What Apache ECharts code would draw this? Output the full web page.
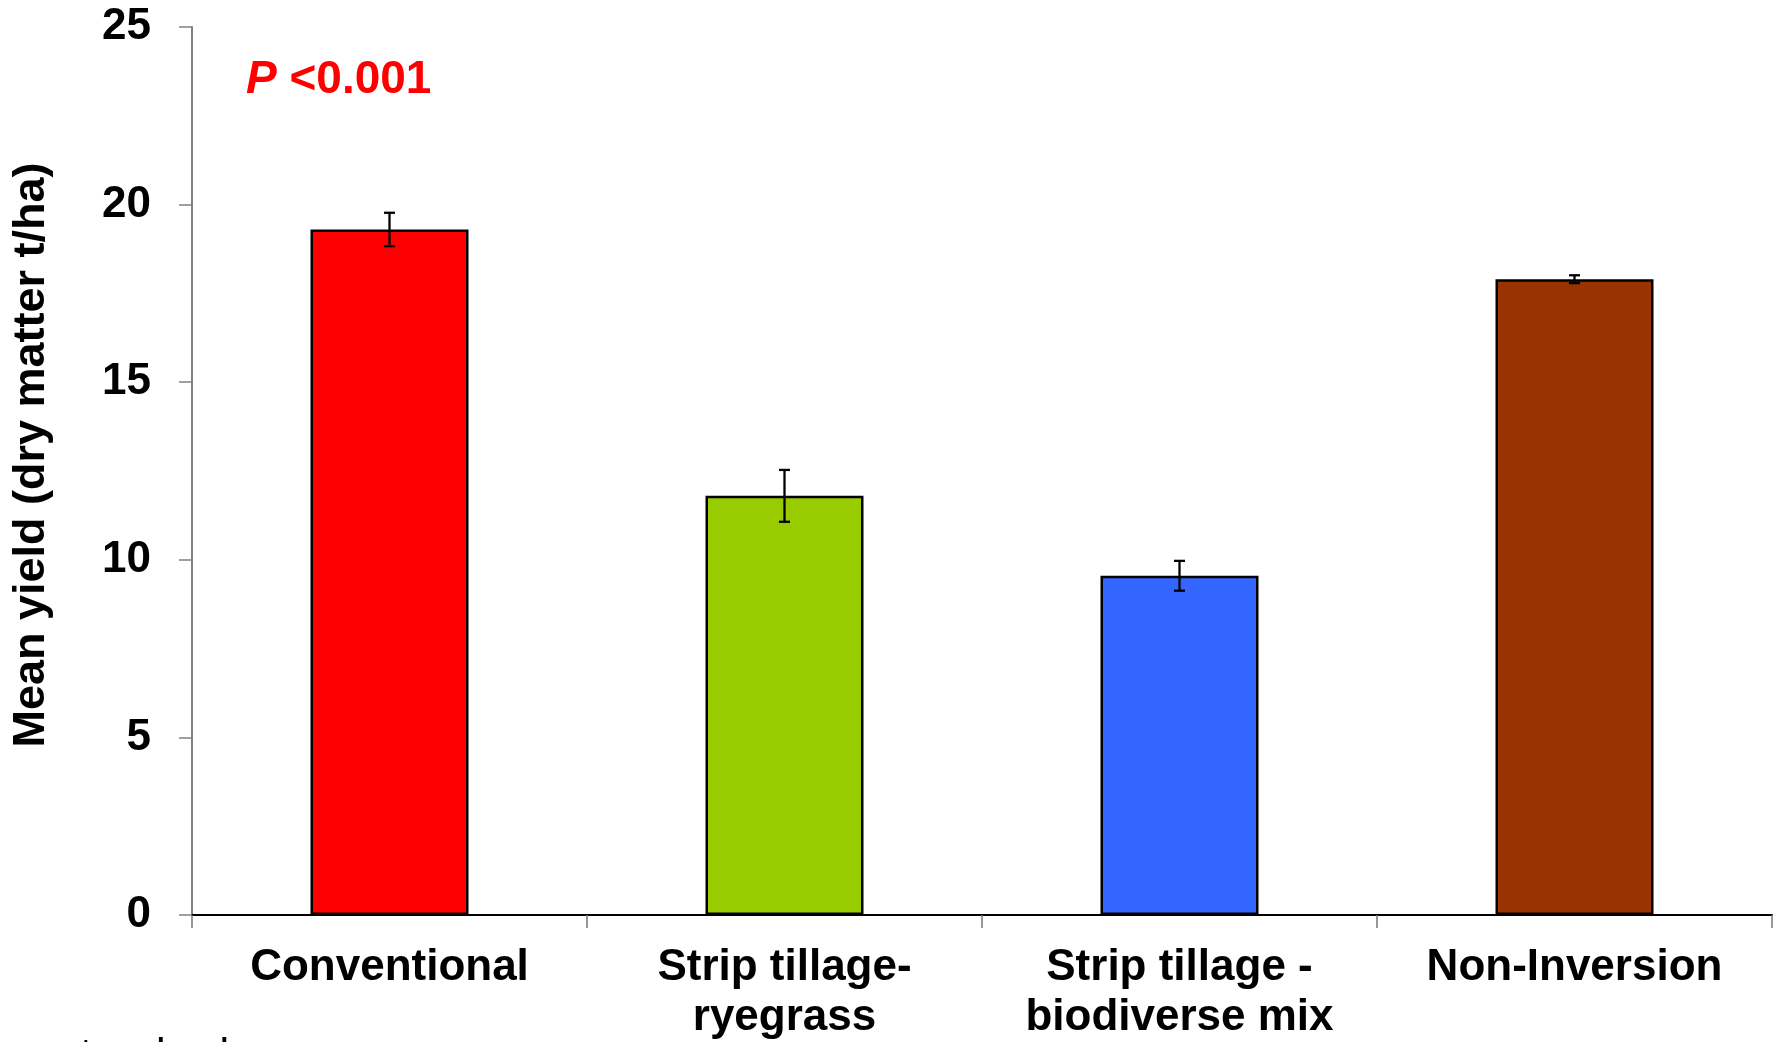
<!DOCTYPE html>
<html>
<head>
<meta charset="utf-8">
<title>Mean yield by tillage treatment</title>
<script src="https://cdn.jsdelivr.net/npm/echarts@6/dist/echarts.min.js"></script>
<style>
  html, body { margin: 0; padding: 0; background: #fff; }
  #chart { width: 1779px; height: 1042px; }
</style>
</head>
<body>
<div id="chart"></div>
<script>
// Treatments and their mean dry-matter yield (t/ha) with standard errors
const categories = ['Conventional', 'Strip tillage-\nryegrass', 'Strip tillage -\nbiodiverse mix', 'Non-Inversion'];
const meanYield = [19.3, 11.8, 9.55, 17.9];
const stdError = [0.47, 0.73, 0.42, 0.11];
const barColors = ['#FF0000', '#99CC00', '#3366FF', '#993300'];

const FONT = "'Liberation Sans', Arial, Helvetica, sans-serif";

const chart = echarts.init(document.getElementById('chart'), null, { renderer: 'canvas' });

const errorData = meanYield.map((m, i) => [i, m - stdError[i], m + stdError[i]]);
const labelData = categories.map((c, i) => [i, 0]);

chart.setOption({
  animation: false,
  backgroundColor: '#ffffff',
  grid: { left: 192, right: 7, top: 27, bottom: 127, containLabel: false, outerBoundsMode: 'none' },
  xAxis: {
    type: 'category',
    data: categories,
    boundaryGap: true,
    axisLine: { show: true, lineStyle: { color: '#000', width: 2 } },
    axisTick: { show: true, alignWithLabel: false, length: 13, lineStyle: { color: '#777', width: 1.5 } },
    axisLabel: { show: false },
    splitLine: { show: false }
  },
  yAxis: {
    type: 'value',
    min: 0,
    max: 25,
    interval: 5,
    axisLine: { show: true, lineStyle: { color: '#808080', width: 2 } },
    axisTick: { show: true, length: 13, lineStyle: { color: '#808080', width: 1.5 } },
    axisLabel: {
      margin: 41,
      color: '#000',
      fontFamily: FONT,
      fontWeight: 'bold',
      fontSize: 44
    },
    splitLine: { show: false }
  },
  series: [
    {
      type: 'bar',
      data: meanYield.map((v, i) => ({ value: v, itemStyle: { color: barColors[i] } })),
      barWidth: '40%',
      itemStyle: { borderColor: '#000', borderWidth: 2.5 },
      z: 2
    },
    {
      // standard-error whiskers
      type: 'custom',
      data: errorData,
      z: 5,
      renderItem: function (params, api) {
        const idx = api.value(0);
        const lo = api.coord([idx, api.value(1)]);
        const hi = api.coord([idx, api.value(2)]);
        const half = 5.5;
        const style = { stroke: '#000', lineWidth: 2.3 };
        return {
          type: 'group',
          children: [
            { type: 'line', shape: { x1: hi[0], y1: hi[1], x2: lo[0], y2: lo[1] }, style: style },
            { type: 'line', shape: { x1: hi[0] - half, y1: hi[1], x2: hi[0] + half, y2: hi[1] }, style: style },
            { type: 'line', shape: { x1: lo[0] - half, y1: lo[1], x2: lo[0] + half, y2: lo[1] }, style: style }
          ]
        };
      }
    },
    {
      // category labels under the x axis, one text per line
      type: 'custom',
      data: labelData,
      clip: false,
      silent: true,
      z: 5,
      renderItem: function (params, api) {
        const idx = api.value(0);
        const pt = api.coord([idx, 0]);
        const lines = categories[idx].split('\n');
        return {
          type: 'group',
          children: lines.map((line, k) => ({
            type: 'text',
            x: pt[0],
            y: pt[1] + 53 + k * 50,
            style: {
              text: line,
              fill: '#000',
              fontFamily: FONT,
              fontWeight: 'bold',
              fontSize: 44,
              align: 'center',
              verticalAlign: 'middle'
            }
          }))
        };
      }
    }
  ],
  graphic: [
    {
      // y-axis title
      type: 'text',
      x: 32,
      y: 455,
      rotation: Math.PI / 2,
      style: {
        text: 'Mean yield (dry matter t/ha)',
        fill: '#000',
        fontFamily: FONT,
        fontWeight: 'bold',
        fontSize: 45,
        align: 'center',
        verticalAlign: 'middle'
      }
    },
    {
      type: 'text',
      left: 246,
      top: 57,
      style: {
        text: '{i|P }{b|<0.001}',
        rich: {
          i: { fill: '#FF0000', fontFamily: FONT, fontWeight: 'bold', fontStyle: 'italic', fontSize: 46 },
          b: { fill: '#FF0000', fontFamily: FONT, fontWeight: 'bold', fontSize: 46 }
        }
      }
    },
    {
      type: 'text',
      x: 58,
      y: 1035,
      style: {
        text: 'standard',
        fill: '#000',
        fontFamily: FONT,
        fontSize: 44,
        verticalAlign: 'top'
      }
    }
  ]
});
</script>
</body>
</html>
